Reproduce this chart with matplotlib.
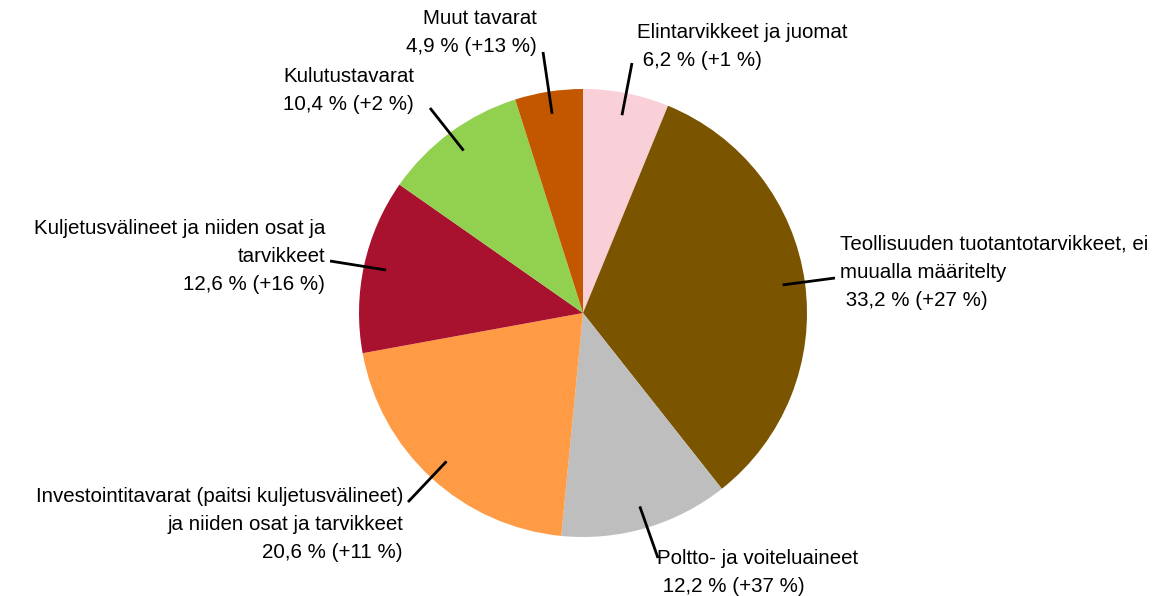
import numpy as np
import matplotlib.pyplot as plt

plt.rcParams['font.family'] = ['Liberation Sans', 'DejaVu Sans']

# Data
labels = ['Elintarvikkeet ja juomat',
          'Teollisuuden tuotantotarvikkeet, ei\nmuualla määritelty',
          'Poltto- ja voiteluaineet',
          'Investointitavarat (paitsi kuljetusvälineet)\nja niiden osat ja tarvikkeet',
          'Kuljetusvälineet ja niiden osat ja\ntarvikkeet',
          'Kulutustavarat',
          'Muut tavarat']
shares = [6.2, 33.2, 12.2, 20.6, 12.6, 10.4, 4.9]
changes = ['+1', '+27', '+37', '+11', '+16', '+2', '+13']
colors = ['#F9D0D8', '#7B5400', '#BDBEBD', '#FF9A45', '#A9122E', '#92D050', '#C25700']

W, H = 1167, 596
fig = plt.figure(figsize=(W / 100, H / 100), dpi=100)
ax = fig.add_axes([0, 0, 1, 1])

cx, cy, r = 583, H - 313, 224
wedges, _ = ax.pie(shares, colors=colors, startangle=90, counterclock=False,
                   center=(cx, cy), radius=r, frame=True,
                   wedgeprops=dict(linewidth=0))
ax.set_xlim(0, W)
ax.set_ylim(0, H)
ax.set_aspect('equal')
ax.axis('off')

# label layout (pixel coords from top): text anchor, ha, leader end, leading space
layout = [
    ((637, 46), 'left', (632, 63), True),
    ((840, 272), 'left', (835, 278), True),
    ((657, 573), 'left', (658, 558), True),
    ((403, 524), 'right', (408, 502), False),
    ((325, 257), 'right', (330, 261), False),
    ((283, 91), 'left', (430, 108), False),
    ((537, 32), 'right', (543, 52), False),
]

for w, lab, s, ch, (tpos, ha, lend, pad) in zip(wedges, labels, shares, changes, layout):
    mid = np.deg2rad((w.theta1 + w.theta2) / 2)
    px = cx + 0.9 * r * np.cos(mid)
    py = cy + 0.9 * r * np.sin(mid)
    ax.plot([px, lend[0]], [py, H - lend[1]], color='black', lw=2, solid_capstyle='butt')
    val = f"{s:.1f}".replace('.', ',') + f" % ({ch} %)"
    txt = lab + '\n' + (' ' if pad else '') + val
    ax.text(tpos[0], H - tpos[1], txt, ha=ha, va='center', fontsize=14.8,
            multialignment=ha, linespacing=1.6)

fig.savefig('out.png', dpi=100)
